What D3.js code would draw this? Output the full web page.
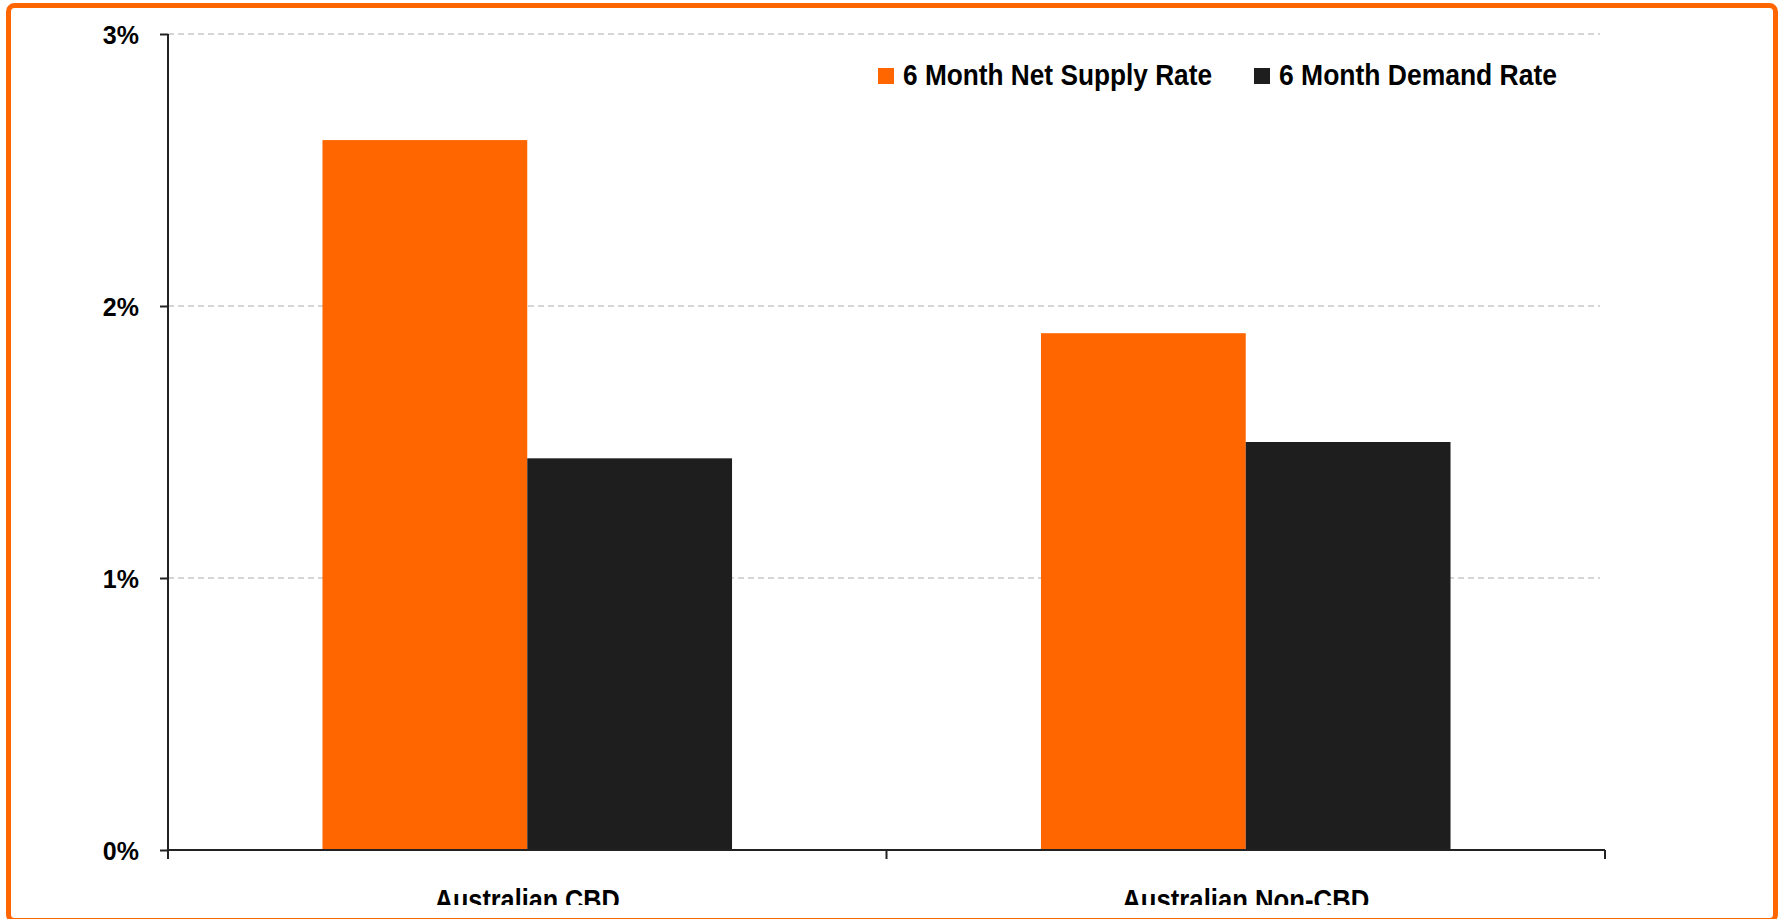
<!DOCTYPE html>
<html lang="en">
  <head>
    <meta charset="utf-8">
    <title>Supply vs Demand</title>
    <script src="https://d3js.org/d3.v7.min.js"></script>
    <style>
      body { margin: 0; background: #fff; }
    </style>
  </head>
<body>

<script>
var categories = ["Australian CBD", "Australian Non-CBD"];
var series = ["6 Month Net Supply Rate", "6 Month Demand Rate"];
var supplyRate = [0.0261, 0.0190];
var demandRate = [0.0144, 0.0150];
var yTicks = [0, 0.01, 0.02, 0.03];
var colors = ["#ff6600", "#1e1e1e"];

var W = 1781, H = 919;
var plotLeft = 168, plotRight = 1605, plotTop = 34, plotBottom = 850;

var svg = d3.select("body")
    .append("svg")
    .attr("width", W)
    .attr("height", H);

svg.append("clipPath").attr("id", "clip")
    .append("rect").attr("x", 0).attr("y", 0).attr("width", W).attr("height", 905);

var g = svg.append("g").attr("clip-path", "url(#clip)");

var x0 = d3.scaleBand().domain(categories).range([plotLeft, plotRight]);
var bw = x0.bandwidth();
var x1 = d3.scaleBand().domain(series).range([bw * 0.215, bw * 0.785]);
var y = d3.scaleLinear().domain([0, 0.03]).range([plotBottom, plotTop]);

// gridlines
g.selectAll(".grid")
    .data(yTicks.filter(d => d > 0))
    .join("line")
    .attr("x1", plotLeft).attr("x2", 1600)
    .attr("y1", d => y(d)).attr("y2", d => y(d))
    .attr("stroke", "#c8c8c8")
    .attr("stroke-width", 1.5)
    .attr("stroke-dasharray", "6,4");

// bars
var rows = categories.map((c, i) => ({cat: c, values: [supplyRate[i], demandRate[i]]}));
var groups = g.selectAll(".cat")
    .data(rows)
    .join("g")
    .attr("transform", d => `translate(${x0(d.cat)},0)`);

groups.selectAll("rect")
    .data(d => d.values.map((v, i) => ({s: series[i], v: v, i: i})))
    .join("rect")
    .attr("x", d => x1(d.s))
    .attr("width", x1.bandwidth())
    .attr("y", d => y(d.v))
    .attr("height", d => plotBottom - y(d.v))
    .attr("fill", d => colors[d.i]);

// y axis
var yAxis = g.append("g")
    .attr("transform", `translate(${plotLeft},0)`)
    .call(d3.axisLeft(y).tickValues(yTicks).tickFormat(d3.format(".0%")).tickSize(8).tickPadding(21));
yAxis.select(".domain").remove();
yAxis.selectAll("line").attr("stroke", "#222").attr("stroke-width", 2);
yAxis.selectAll("text")
    .attr("font-family", "'Liberation Sans', Arial, sans-serif")
    .attr("font-weight", "bold")
    .attr("font-size", 25)
    .attr("fill", "#000")
    .attr("dy", "0.36em");
g.append("line")
    .attr("x1", plotLeft).attr("x2", plotLeft)
    .attr("y1", plotTop).attr("y2", plotBottom + 9)
    .attr("stroke", "#222").attr("stroke-width", 2);

// x axis
g.append("line")
    .attr("x1", plotLeft).attr("x2", plotRight)
    .attr("y1", plotBottom).attr("y2", plotBottom)
    .attr("stroke", "#222").attr("stroke-width", 2);
var xEdges = categories.map(c => x0(c)).concat([plotRight]);
g.selectAll(".xtick")
    .data(xEdges)
    .join("line")
    .attr("x1", d => d).attr("x2", d => d)
    .attr("y1", plotBottom).attr("y2", plotBottom + 9)
    .attr("stroke", "#222").attr("stroke-width", 2);

var labelWidths = [185, 247];
g.selectAll(".xlabel")
    .data(categories)
    .join("text")
    .attr("x", d => x0(d) + bw / 2)
    .attr("y", 910)
    .attr("text-anchor", "middle")
    .attr("font-family", "'Liberation Sans Narrow', 'Liberation Sans', Arial, sans-serif")
    .attr("font-weight", "bold")
    .attr("font-size", 29)
    .attr("textLength", (d, i) => labelWidths[i])
    .attr("lengthAdjust", "spacingAndGlyphs")
    .text(d => d);

// legend
var legendX = [878, 1254];
var legendW = [309, 278];
var leg = g.selectAll(".leg")
    .data(series)
    .join("g")
    .attr("transform", (d, i) => `translate(${legendX[i]},0)`);
leg.append("rect")
    .attr("x", 0).attr("y", 68)
    .attr("width", 16).attr("height", 16)
    .attr("fill", (d, i) => colors[i]);
leg.append("text")
    .attr("x", 25).attr("y", 85)
    .attr("font-family", "'Liberation Sans Narrow', 'Liberation Sans', Arial, sans-serif")
    .attr("font-weight", "bold")
    .attr("font-size", 29)
    .attr("textLength", (d, i) => legendW[i])
    .attr("lengthAdjust", "spacingAndGlyphs")
    .text(d => d);

// frame
svg.append("rect")
    .attr("x", 8.5).attr("y", 5.5)
    .attr("width", 1767).attr("height", 915)
    .attr("rx", 6)
    .attr("fill", "none")
    .attr("stroke", "#ff6600")
    .attr("stroke-width", 5);
</script>
</body>
</html>
